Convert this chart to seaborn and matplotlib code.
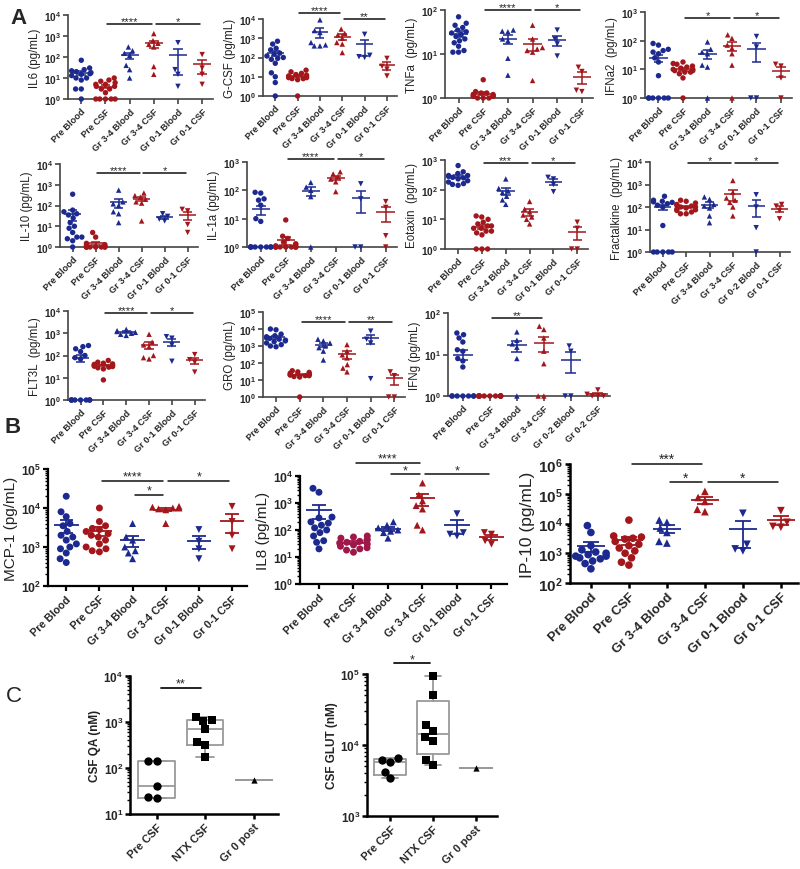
import warnings
import numpy as np
import pandas as pd
import seaborn as sns
import matplotlib.pyplot as plt
import matplotlib.ticker as ticker

warnings.filterwarnings("ignore")

BLUE = "#1C2A8F"
RED = "#A3171C"
CRIMSON = "#A0174A"

GROUPS = ["Pre Blood", "Pre CSF", "Gr 3-4 Blood", "Gr 3-4 CSF", "Gr 0-1 Blood", "Gr 0-1 CSF"]
GROUPS_FRACT = ["Pre Blood", "Pre CSF", "Gr 3-4 Blood", "Gr 3-4 CSF", "Gr 0-2 Blood", "Gr 0-1 CSF"]
GROUPS_IFNG = ["Pre Blood", "Pre CSF", "Gr 3-4 Blood", "Gr 3-4 CSF", "Gr 0-2 Blood", "Gr 0-2 CSF"]
GROUPS_C = ["Pre CSF", "NTX CSF", "Gr 0 post"]

# values per group, order as GROUPS (pg/mL)
il6 = [[70, 30, 25, 22, 20, 18, 16, 15, 13, 10, 10, 8, 3, 3, 1],
       [10, 8, 7, 6, 5, 5, 4, 4, 3, 3, 2, 1, 1, 1, 1, 1],
       [300, 200, 150, 120, 40, 25, 10],
       [1300, 600, 450, 400, 300, 35, 15],
       [480, 25, 15, 4],
       [130, 30, 15, 5]]
gcsf = [[700, 500, 300, 250, 170, 150, 120, 100, 90, 80, 50, 16, 10, 5, 1],
        [22, 18, 15, 13, 12, 11, 10, 10, 9, 9, 8, 8, 7, 1],
        [9000, 2500, 2000, 600, 450, 400, 400],
        [3000, 1800, 1500, 1000, 600, 500, 180],
        [1600, 130, 110, 100],
        [90, 35, 25, 11]]
tnfa = [[70, 50, 45, 40, 35, 32, 30, 28, 25, 22, 20, 18, 15, 12, 11, 11],
        [2.6, 1.4, 1.3, 1.3, 1.2, 1.2, 1.2, 1.1, 1.1, 1.1, 1.1, 1.0, 1.0, 1.0],
        [35, 33, 32, 22, 20, 8, 3.3],
        [45, 22, 14, 13, 12, 11, 2.5],
        [35, 22, 17, 9],
        [5, 4, 1.5, 1.4]]
ifna2 = [[80, 70, 50, 45, 40, 35, 25, 18, 6, 1, 1, 1, 1, 1, 1],
         [18, 16, 15, 13, 12, 11, 10, 10, 9, 9, 8, 8, 7, 5, 1],
         [90, 50, 40, 35, 14, 12, 1],
         [160, 120, 70, 55, 35, 14, 1],
         [140, 60, 1, 1],
         [15, 13, 5, 1]]
il10 = [[350, 60, 50, 40, 35, 25, 15, 10, 8, 5, 3, 3, 2.5, 2, 1],
        [5, 3, 1.5, 1.3, 1.2, 1.1, 1, 1, 1, 1, 1, 1, 1, 1],
        [550, 150, 120, 100, 50, 40, 15],
        [400, 300, 250, 200, 150, 130, 18],
        [40, 30, 22, 18],
        [65, 55, 12, 5]]
il1a = [[85, 80, 50, 45, 30, 10, 8, 1, 1, 1, 1, 1, 1, 1, 1],
        [9, 2.4, 2, 1.5, 1.3, 1.2, 1.1, 1, 1, 1, 1, 1, 1, 1, 1, 1],
        [190, 130, 100, 60, 1],
        [450, 380, 300, 250, 200, 90],
        [170, 50, 1, 1],
        [40, 25, 2.5, 1]]
eotaxin = [[650, 400, 350, 300, 300, 280, 260, 250, 230, 200, 180, 160, 150, 140],
           [13, 12, 10, 8, 7, 6, 6, 5, 5, 4, 4, 3.5, 3, 1, 1, 1],
           [230, 110, 90, 80, 60, 45, 32],
           [40, 22, 18, 14, 12, 10, 7],
           [260, 230, 150, 85],
           [8, 5, 1, 1]]
fractalkine = [[300, 200, 180, 170, 160, 140, 120, 100, 15, 1, 1, 1, 1, 1],
               [200, 180, 150, 130, 120, 110, 100, 100, 90, 80, 75, 70, 60, 50, 50],
               [280, 220, 130, 110, 90, 40, 20],
               [1500, 450, 250, 200, 160, 100, 40],
               [350, 100, 12, 1],
               [130, 110, 70, 30]]
flt3l = [[280, 250, 200, 150, 100, 80, 70, 1, 1, 1, 1, 1, 1, 1, 1],
         [60, 50, 45, 42, 40, 38, 36, 35, 33, 32, 30, 28, 25, 8],
         [1500, 1300, 1200, 1100, 1000, 900, 800],
         [900, 400, 300, 250, 100, 80, 70],
         [700, 600, 300, 55],
         [110, 65, 50, 18]]
gro = [[10000, 9000, 5000, 4000, 3500, 3000, 2800, 2500, 2200, 2000, 1800, 1500, 1200, 1000, 900],
       [35, 30, 28, 25, 22, 22, 20, 20, 18, 18, 16, 15, 1],
       [2500, 2000, 1500, 1000, 800, 500, 150],
       [1200, 500, 300, 200, 80, 50, 30],
       [7500, 2500, 1500, 12],
       [30, 18, 1, 1]]
ifng = [[33, 30, 25, 20, 13, 12, 8, 7, 5, 1, 1, 1, 1, 1, 1, 1],
        [1, 1, 1, 1, 1, 1, 1, 1, 1, 1, 1, 1, 1, 1, 1],
        [35, 22, 18, 15, 8, 1],
        [48, 40, 25, 12, 6, 1, 1],
        [16, 12, 1, 1],
        [1.4, 1.1, 1.0, 1.0, 1.0]]
mcp1 = [[20000, 8000, 6000, 4000, 3500, 2500, 2000, 1800, 1500, 1200, 1000, 900, 700, 500, 400],
        [10000, 4500, 3500, 3000, 2800, 2500, 2200, 2000, 1800, 1500, 1200, 1000, 900, 800, 750],
        [4000, 1800, 1500, 1000, 800, 700, 500],
        [11000, 10500, 10000, 10000, 9500, 9000, 4000],
        [2800, 1400, 900, 500],
        [11000, 4500, 2000, 900]]
il8 = [[3500, 2500, 300, 280, 200, 180, 150, 120, 100, 80, 60, 40, 35, 20],
       [60, 55, 50, 45, 40, 38, 35, 33, 30, 28, 25, 22, 20, 18, 15],
       [200, 150, 120, 100, 90, 80, 50],
       [5500, 2000, 1200, 800, 600, 150, 100],
       [400, 80, 70, 60],
       [80, 70, 40, 30]]
ip10 = [[8500, 5000, 1800, 1300, 1100, 1000, 900, 800, 800, 700, 650, 550, 450, 300],
        [13000, 3800, 3500, 3200, 3000, 2500, 2000, 1800, 1500, 1200, 1000, 700, 500, 400],
        [13000, 11000, 7000, 5000, 2500, 2200],
        [120000, 75000, 55000, 30000, 25000],
        [22000, 2000, 1400, 1200],
        [27000, 11000, 8000, 7500]]

# panel C (nM)
csf_qa = [[140, 140, 40, 23, 22],
          [1300, 1100, 1050, 700, 360, 320, 170],
          [55]]
csf_glut = [[6500, 6200, 5800, 4200, 3400],
            [95000, 50000, 19000, 16000, 13000, 11500, 6200, 5200],
            [4700]]

# significance bars: (group from, group to, height, stars)
il6_sig = [(1, 3, 3700, "****"), (3, 5, 3700, "*")]
gcsf_sig = [(1, 3, 20000, "****"), (3, 5, 10000, "**")]
tnfa_sig = [(1, 3, 100, "****"), (3, 5, 100, "*")]
ifna2_sig = [(1, 3, 630, "*"), (3, 5, 630, "*")]
il10_sig = [(1, 3, 3500, "****"), (3, 5, 3500, "*")]
il1a_sig = [(1, 3, 1300, "****"), (3, 5, 1300, "*")]
eotaxin_sig = [(1, 3, 770, "***"), (3, 5, 770, "*")]
fractalkine_sig = [(1, 3, 8700, "*"), (3, 5, 8700, "*")]
flt3l_sig = [(1, 3, 7800, "****"), (3, 5, 7800, "*")]
gro_sig = [(1, 3, 26000, "****"), (3, 5, 26000, "**")]
ifng_sig = [(1, 3, 77, "**")]
mcp1_sig = [(1, 3, 50000, "****"), (2, 3, 22000, "*"), (3, 5, 50000, "*")]
il8_sig = [(1, 3, 31000, "****"), (2, 3, 11500, "*"), (3, 5, 11500, "*")]
ip10_sig = [(1, 3, 1000000, "***"), (2, 3, 240000, "*"), (3, 5, 240000, "*")]
qa_sig = [(0, 1, 5600, "**")]
glut_sig = [(0, 1, 143000, "*")]

sns.set_style("ticks")
plt.rcParams['font.family'] = ['Liberation Sans', 'DejaVu Sans']
plt.rcParams['mathtext.fontset'] = 'custom'
plt.rcParams['mathtext.rm'] = 'Liberation Sans'
plt.rcParams['mathtext.bf'] = 'Liberation Sans:bold'

W, H = 800, 870


def px_axes(fig, x1, x2, y1, y2):
    return fig.add_axes([x1 / W, 1 - y2 / H, (x2 - x1) / W, (y2 - y1) / H])


def pow_fmt(v, pos):
    return r'$\mathbf{10^{%d}}$' % int(round(np.log10(v)))


def style_axis(ax, labels, ylabel, ylim, fs, minor, spine_c, spine_w):
    ax.set_ylim(*ylim)
    ax.set_xlabel('')
    ax.set_ylabel(ylabel, fontsize=fs['ylab'], fontweight=fs.get('ylab_w', 'normal'),
                  color='#222222', labelpad=2)
    sns.despine(ax=ax)
    for s in ['left', 'bottom']:
        ax.spines[s].set_color(spine_c)
        ax.spines[s].set_linewidth(spine_w)
    ax.yaxis.set_major_locator(ticker.LogLocator(base=10, numticks=12))
    ax.yaxis.set_major_formatter(ticker.FuncFormatter(pow_fmt))
    if minor:
        ax.yaxis.set_minor_locator(ticker.LogLocator(base=10, subs=np.arange(2, 10), numticks=12))
        ax.yaxis.set_minor_formatter(ticker.NullFormatter())
    else:
        ax.yaxis.set_minor_locator(ticker.NullLocator())
    ax.set_xticks(range(len(labels)))
    ax.set_xticklabels(labels, rotation=45, ha='right', rotation_mode='anchor',
                       fontweight='bold', fontsize=fs['xt'])
    ax.tick_params(axis='y', labelsize=fs['yt'], length=3.5, width=spine_w, color=spine_c, pad=1.5)
    ax.tick_params(axis='y', which='minor', length=2, width=1, color=spine_c)
    ax.tick_params(axis='x', length=3.5, width=spine_w, color=spine_c, pad=2)


def draw_sig(ax, sig, fsize, lw):
    for x1, x2, y, txt in sig:
        ax.plot([x1 + 0.08, x2 - 0.08], [y, y], color='#111111', lw=lw, clip_on=False, zorder=6)
        ax.annotate(txt, ((x1 + x2) / 2, y), xytext=(0, -1.5), textcoords='offset points',
                    ha='center', va='bottom', fontsize=fsize, annotation_clip=False)


def cytokine_panel(ax, values, labels, ylabel, ylim, sig, fs, ms, lw, minor=False,
                   spine_c='#444444', spine_w=1.2, sig_fs=8, csf_color=RED):
    ax.set_yscale('log')
    rows = []
    for g, vals in zip(labels, values):
        for v in vals:
            rows.append((g, 'Blood' if 'Blood' in g else 'CSF', v))
    df = pd.DataFrame(rows, columns=['group', 'tissue', 'value'])
    for grps, m in [(labels[0:2], 'o'), (labels[2:4], '^'), (labels[4:6], 'v')]:
        sub = df[df['group'].isin(grps)]
        pal = {'Blood': BLUE, 'CSF': csf_color if m == 'o' else RED}
        sns.swarmplot(data=sub, x='group', y='value', order=labels, hue='tissue',
                      palette=pal, marker=m, size=ms,
                      linewidth=0, legend=False, ax=ax)
    for c in ax.collections:
        c.set_clip_on(False)

    # mean +/- SEM
    for i, vals in enumerate(values):
        arr = np.asarray(vals, dtype=float)
        mean = arr.mean()
        sem = arr.std(ddof=1) / np.sqrt(len(arr)) if len(arr) > 1 else 0
        col = BLUE if i % 2 == 0 else (csf_color if i == 1 else RED)
        hi = mean + sem
        lo = mean - sem
        ax.hlines(mean, i - 0.37, i + 0.37, color=col, lw=lw, zorder=5)
        if sem > 0:
            ax.vlines(i, max(lo, ylim[0]), hi, color=col, lw=lw, zorder=5)
            ax.hlines(hi, i - 0.2, i + 0.2, color=col, lw=lw, zorder=5)
            if lo > ylim[0]:
                ax.hlines(lo, i - 0.2, i + 0.2, color=col, lw=lw, zorder=5)

    ax.set_xlim(-0.55, 5.45)
    style_axis(ax, labels, ylabel, ylim, fs, minor, spine_c, spine_w)
    draw_sig(ax, sig, sig_fs, 1.1)


def box_panel(ax, values, labels, ylabel, ylim, sig, fs):
    ax.set_yscale('log')
    rows = []
    for g, vals in zip(labels, values):
        for v in vals:
            rows.append((g, v))
    df = pd.DataFrame(rows, columns=['group', 'value'])
    for g, m, s in zip(labels, ['o', 's', '^'], [6, 6, 4.5]):
        sub = df[df['group'] == g]
        sns.swarmplot(data=sub, x='group', y='value', order=labels, color='black',
                      marker=m, size=s, linewidth=0, zorder=3, ax=ax)
    for c in ax.collections:
        c.set_clip_on(False)
    # min-to-max box plot, quartiles as in Prism
    stats = []
    for vals in values:
        arr = np.asarray(vals, dtype=float)
        q1, med, q3 = np.percentile(arr, [25, 50, 75], method='weibull') if len(arr) > 2 \
            else (np.median(arr),) * 3
        stats.append({'med': med, 'q1': q1, 'q3': q3, 'whislo': arr.min(), 'whishi': arr.max()})
    line = {'color': '#9a9a9a', 'linewidth': 1.3}
    ax.bxp(stats, positions=range(len(values)), widths=0.75, showfliers=False,
           boxprops=line, whiskerprops=line, capprops=line, medianprops=line,
           manage_ticks=False, zorder=2)
    ax.set_xlim(-0.55, 2.5)
    style_axis(ax, labels, ylabel, ylim, fs, True, 'black', 1.8)
    draw_sig(ax, sig, 9, 1.3)


fig = plt.figure(figsize=(8, 8.7), dpi=100)

fsA = {'xt': 6.6, 'yt': 7.3, 'ylab': 8.3}
fsB = {'xt': 7.8, 'yt': 8.8, 'ylab': 11}
fsIP = {'xt': 9.5, 'yt': 11, 'ylab': 12.5}
fsC = {'xt': 8, 'yt': 8.5, 'ylab': 8.5, 'ylab_w': 'bold'}

panels_a = [
    ((68, 213, 16, 100), il6, GROUPS, "IL6 (pg/mL)", (1, 1e4), il6_sig),
    ((263, 397, 20, 97), gcsf, GROUPS, "G-CSF (pg/mL)", (1, 1e4), gcsf_sig),
    ((445, 593, 11, 99), tnfa, GROUPS, "TNFa  (pg/mL)", (1, 100), tnfa_sig),
    ((645, 792, 13, 99), ifna2, GROUPS, "IFNa2  (pg/mL)", (1, 1000), ifna2_sig),
    ((60, 198, 165, 248), il10, GROUPS, "IL-10 (pg/mL)", (1, 1e4), il10_sig),
    ((247, 397, 163, 248), il1a, GROUPS, "IL-1a (pg/mL)", (1, 1000), il1a_sig),
    ((445, 588, 161, 250), eotaxin, GROUPS, "Eotaxin  (pg/mL)", (1, 1000), eotaxin_sig),
    ((650, 790, 163, 253), fractalkine, GROUPS_FRACT, "Fractalkine  (pg/mL)", (1, 1e4), fractalkine_sig),
    ((68, 205, 312, 401), flt3l, GROUPS, "FLT3L  (pg/mL)", (1, 1e4), flt3l_sig),
    ((263, 405, 313, 398), gro, GROUPS, "GRO (pg/mL)", (1, 1e5), gro_sig),
    ((448, 610, 314, 397), ifng, GROUPS_IFNG, "IFNg (pg/mL)", (1, 100), ifng_sig),
]
for rect, vals, labels, ylab, ylim, sig in panels_a:
    ax = px_axes(fig, *rect)
    cytokine_panel(ax, vals, labels, ylab, ylim, sig, fsA, ms=3.9, lw=1.1)

ax = px_axes(fig, 48, 247, 470, 587)
cytokine_panel(ax, mcp1, GROUPS, "MCP-1 (pg/mL)", (100, 1e5), mcp1_sig, fsB, ms=5, lw=1.3,
               minor=True, spine_c='black', spine_w=1.6, sig_fs=9)
ax = px_axes(fig, 300, 507, 477, 585)
cytokine_panel(ax, il8, GROUPS, "IL8 (pg/mL)", (1, 1e4), il8_sig, fsB, ms=5, lw=1.3,
               minor=True, spine_c='black', spine_w=1.6, sig_fs=9, csf_color=CRIMSON)
ax = px_axes(fig, 570, 798, 465, 584)
cytokine_panel(ax, ip10, GROUPS, "IP-10 (pg/mL)", (100, 1e6), ip10_sig, fsIP, ms=5.5, lw=1.3,
               minor=True, spine_c='black', spine_w=1.8, sig_fs=10)

ax = px_axes(fig, 130, 278, 677, 815)
box_panel(ax, csf_qa, GROUPS_C, "CSF QA (nM)", (10, 1e4), qa_sig, fsC)
ax = px_axes(fig, 367, 497, 675, 817)
box_panel(ax, csf_glut, GROUPS_C, "CSF GLUT (nM)", (1e3, 1e5), glut_sig, fsC)

fig.text(10 / W, 1 - 18 / H, "A", fontsize=16, fontweight='bold', va='center')
fig.text(5 / W, 1 - 428 / H, "B", fontsize=16, fontweight='bold', va='center')
fig.text(6 / W, 1 - 697 / H, "C", fontsize=16, va='center')

fig.savefig("out.png", dpi=100)
